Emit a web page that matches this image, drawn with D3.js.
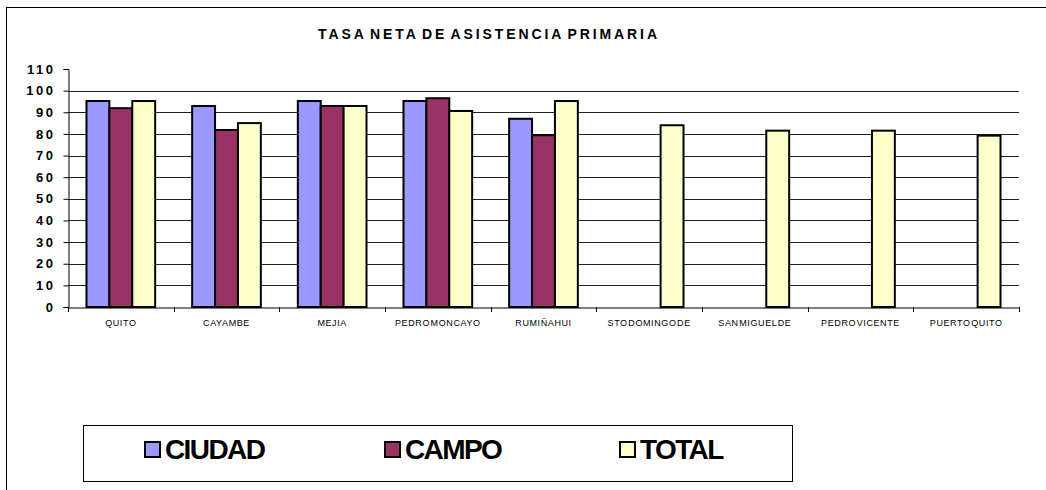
<!DOCTYPE html>
<html><head><meta charset="utf-8">
<script src="https://cdn.jsdelivr.net/npm/d3@7"></script>
<style>
html,body{margin:0;padding:0;background:#fff;}
svg{display:block;font-family:Arial,"Liberation Sans",sans-serif;}
</style></head>
<body><svg id="c" width="1046" height="490"></svg>
<script>
const categories = ["QUITO","CAYAMBE","MEJIA","PEDRO MONCAYO","RUMIÑAHUI","STO DOMINGO DE","SAN MIGUEL DE","PEDRO VICENTE","PUERTO QUITO"];
const ciudad = [95.2, 92.9, 95.2, 95.2, 87.0, null, null, null, null];
const campo  = [91.9, 81.8, 92.9, 96.5, 79.4, null, null, null, null];
const total  = [95.2, 85.0, 92.9, 90.6, 95.2, 84.0, 81.5, 81.5, 79.2];
const seriesNames = ["CIUDAD","CAMPO","TOTAL"];
const seriesColors = ["#9999FF","#993366","#FFFFCC"];
const yTicks = [0,10,20,30,40,50,60,70,80,90,100,110];
const title = "TASA NETA DE ASISTENCIA PRIMARIA";

const seriesValues = [ciudad, campo, total];
const svg = d3.select("#c");
const L = 68, R = 1019, T = 69, B = 307;

// outer border
svg.append("rect").attr("x",6.5).attr("y",7.5).attr("width",1200).attr("height",600)
  .attr("fill","none").attr("stroke","#000").attr("stroke-width",1);

svg.append("text").attr("x",489).attr("y",39).attr("text-anchor","middle")
  .attr("font-size",14).attr("font-weight","bold").attr("letter-spacing",2.9).attr("word-spacing",-3).text(title);

const y = d3.scaleLinear().domain([0,110]).range([B,T]);
const x0 = d3.scaleBand().domain(categories).range([L,R]).padding(0);
const step = x0.bandwidth();
const x1 = d3.scaleBand().domain(seriesNames).range([step*0.175, step*0.825]).padding(0);

// gridlines
svg.append("g").selectAll("line").data(yTicks.filter(t=>t>0 && t<110)).join("line")
  .attr("x1",L).attr("x2",R).attr("y1",d=>Math.round(y(d))+0.5).attr("y2",d=>Math.round(y(d))+0.5)
  .attr("stroke","#222").attr("stroke-width",1);

// bars
const rows = [];
categories.forEach((c,i)=>seriesNames.forEach((s,j)=>{
  const v = seriesValues[j][i];
  if (v!=null) rows.push({c,s,v,color:seriesColors[j]});
}));
svg.append("g").selectAll("rect").data(rows).join("rect")
  .attr("x",d=>x0(d.c)+x1(d.s)).attr("width",x1.bandwidth())
  .attr("y",d=>y(d.v)).attr("height",d=>B-y(d.v))
  .attr("fill",d=>d.color).attr("stroke","#000").attr("stroke-width",2);

// y axis
const yAxis = d3.axisLeft(y).tickValues(yTicks).tickSize(5).tickPadding(8);
const gy = svg.append("g").attr("transform",`translate(${L+0.5},0)`).call(yAxis);
gy.select(".domain").attr("stroke","#000");
gy.selectAll(".tick line").attr("stroke","#000");
gy.selectAll("text").attr("font-size",13).attr("font-weight","bold").attr("letter-spacing",2.5)
  .attr("fill","#000").attr("font-family","Arial,'Liberation Sans',sans-serif");

// x axis
const xAxis = d3.axisBottom(x0).tickSize(0).tickPadding(12);
const gx = svg.append("g").attr("transform",`translate(0,${B+0.5})`).call(xAxis);
gx.select(".domain").attr("stroke","#000");
gx.selectAll("text").attr("font-size",9).attr("fill","#000").attr("word-spacing",-2.5).attr("letter-spacing",0.6)
  .attr("font-family","Arial,'Liberation Sans',sans-serif");
// boundary ticks
const bounds = categories.map(c=>x0(c)).concat([R]);
svg.append("g").selectAll("line").data(bounds).join("line")
  .attr("x1",d=>Math.round(d)+0.5).attr("x2",d=>Math.round(d)+0.5).attr("y1",B).attr("y2",B+5)
  .attr("stroke","#000");

// legend
svg.append("rect").attr("x",83.5).attr("y",425.5).attr("width",709).attr("height",56)
  .attr("fill","#fff").attr("stroke","#000").attr("stroke-width",1);
const legX = [145, 385, 620];
const lg = svg.append("g").selectAll("g").data(seriesNames).join("g")
  .attr("transform",(d,i)=>`translate(${legX[i]},442)`);
lg.append("rect").attr("width",15).attr("height",15).attr("fill",(d,i)=>seriesColors[i])
  .attr("stroke","#000").attr("stroke-width",2);
lg.append("text").attr("x",20).attr("y",17).attr("font-size",28).attr("font-weight","bold")
  .attr("letter-spacing",-1.6).attr("fill","#000").text(d=>d);
</script></body></html>
